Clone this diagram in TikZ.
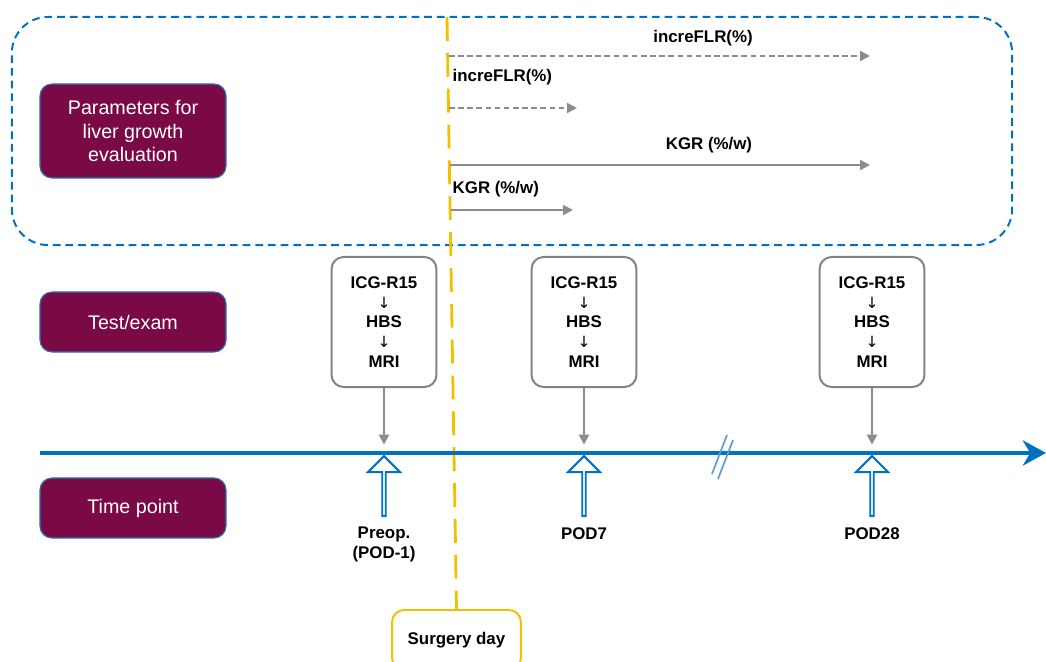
\documentclass[tikz,border=0pt]{standalone}
\usepackage{fontspec}
\setmainfont{Liberation Sans}
\newfontfamily\arrowfont{DejaVu Sans}
\usetikzlibrary{positioning,arrows.meta,shapes.arrows}

\definecolor{wine}{RGB}{122,10,70}
\definecolor{boxblue}{RGB}{46,117,182}
\definecolor{tlblue}{RGB}{0,112,192}
\definecolor{breakblue}{RGB}{91,155,213}
\definecolor{arrgray}{RGB}{140,140,140}
\definecolor{boxgray}{RGB}{130,130,130}
\definecolor{surgyellow}{RGB}{242,192,0}

\newcommand{\dnarr}{{\arrowfont\mdseries\fontsize{11}{14}\selectfont ↓}}

\begin{document}
\begin{tikzpicture}[
    x=0.025cm, y=-0.025cm,
    rowbox/.style   = {draw=boxblue, line width=0.8pt, fill=wine, rounded corners=0.3cm,
                       minimum width=4.65cm, minimum height=1.5cm, text=white,
                       align=center, font=\fontsize{14}{17}\selectfont},
    testbox/.style  = {draw=boxgray, line width=1.4pt, rounded corners=0.3cm,
                       minimum width=2.62cm, minimum height=3.25cm, align=center,
                       font=\bfseries\fontsize{12}{14}\selectfont},
    frame/.style    = {draw=tlblue, line width=1.4pt, dash pattern=on 5.5pt off 3.5pt,
                       rounded corners=0.9cm, minimum width=25cm, minimum height=5.7cm},
    lbl/.style      = {font=\bfseries\fontsize{12}{14}\selectfont, inner sep=1pt},
    podlbl/.style   = {font=\bfseries\fontsize{12}{14}\selectfont, align=center, inner sep=1pt},
    hollow/.style   = {single arrow, draw=tlblue, fill=white, line width=1.4pt,
                       shape border rotate=90, minimum height=1.5cm, minimum width=0.8cm,
                       single arrow head extend=0.2cm, inner sep=0pt},
    surgery/.style  = {draw=surgyellow, line width=1.4pt, rounded corners=0.3cm,
                       minimum width=3.22cm, minimum height=1.5cm,
                       font=\bfseries\fontsize{12}{14}\selectfont},
    dasharrow/.style  = {draw=arrgray, line width=1.4pt, dash pattern=on 4pt off 2.5pt,
                         -{Triangle[length=0.25cm,width=0.25cm]}},
    solidarrow/.style = {draw=arrgray, line width=1.4pt,
                         -{Triangle[length=0.25cm,width=0.25cm]}}
]
\useasboundingbox (0,0) rectangle (1046,662);

% =========================================================
% ROW TITLES
% =========================================================
\node[rowbox, minimum height=2.35cm] (param) at (133,131) {Parameters for\\ liver growth\\ evaluation};
\node[rowbox] (test) at (133,322) {Test/exam};
\node[rowbox] (time) at (133,508) {Time point};

% =========================================================
% PARAMETER FRAME
% =========================================================
\node[frame] (pframe) at (512,131) {};

% =========================================================
% SURGERY DAY
% =========================================================
\coordinate (ytop) at (447,17);
\node[surgery] (surg) at (456.5,640) {Surgery day};
\draw[surgyellow, line width=2pt, dash pattern=on 17pt off 8.5pt] (ytop) -- (surg.north);

% =========================================================
% GROWTH PARAMETERS
% =========================================================
\node[lbl] (flr1) at (703,38) {increFLR(\%)};
\node[lbl, anchor=west] (flr2) at (451,77) {increFLR(\%)};
\node[lbl] (kgr1) at (709,145) {KGR (\%/w)};
\node[lbl, anchor=west] (kgr2) at (451,189) {KGR (\%/w)};

\coordinate (flr1s) at (449,56);  \coordinate (flr1e) at (870,56);
\coordinate (flr2s) at (449,108); \coordinate (flr2e) at (577,108);
\coordinate (kgr1s) at (450,165); \coordinate (kgr1e) at (870,165);
\coordinate (kgr2s) at (451,210); \coordinate (kgr2e) at (573,210);

% =========================================================
% TIMELINE
% =========================================================
\coordinate (tstart) at (40,453);
\coordinate (tend) at (1046,453);
\draw[tlblue, line width=3pt, -{Stealth[length=0.58cm,width=0.63cm]}] (tstart) -- (tend);
\draw[breakblue, line width=1.2pt] (712,474) -- (727,435) (718,479) -- (733,440);

\node[hollow] (a1) at (384,487) {};
\node[hollow] (a2) at (584,487) {};
\node[hollow] (a3) at (872,487) {};

\node[podlbl, below=6pt of a1] (pre)   {Preop.\\ (POD-1)};
\node[podlbl, below=6pt of a2] (pod7)  {POD7};
\node[podlbl, below=6pt of a3] (pod28) {POD28};

% =========================================================
% TESTS
% =========================================================
\node[testbox] (t1) at (384,322) {ICG-R15\\ \dnarr\\ HBS\\ \dnarr\\ MRI};
\node[testbox] (t2) at (584,322) {ICG-R15\\ \dnarr\\ HBS\\ \dnarr\\ MRI};
\node[testbox] (t3) at (872,322) {ICG-R15\\ \dnarr\\ HBS\\ \dnarr\\ MRI};

% =========================================================
% ARROWS
% =========================================================
\path
  (flr1s) edge[dasharrow] (flr1e)
  (flr2s) edge[dasharrow] (flr2e)
  (kgr1s) edge[solidarrow] (kgr1e)
  (kgr2s) edge[solidarrow] (kgr2e)
  (t1.south) edge[solidarrow, shorten >=0.25cm] (a1.north)
  (t2.south) edge[solidarrow, shorten >=0.25cm] (a2.north)
  (t3.south) edge[solidarrow, shorten >=0.25cm] (a3.north);

\end{tikzpicture}
\end{document}
